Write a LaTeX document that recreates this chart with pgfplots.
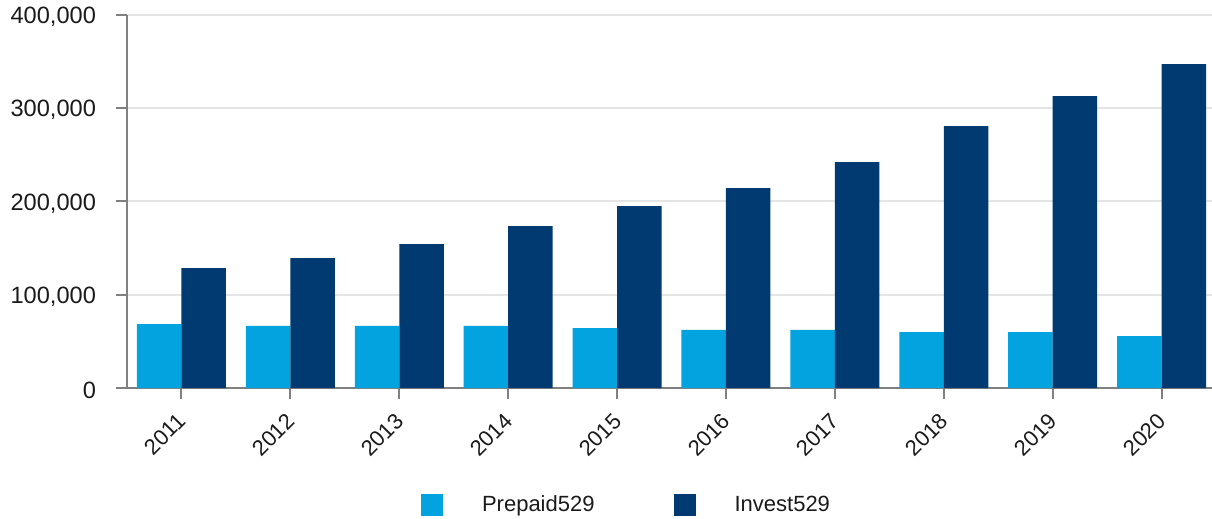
\documentclass[border=0pt]{standalone}
\usepackage{pgfplots}
\pgfplotsset{compat=1.18}
\usepackage{fontspec}
\setmainfont{Liberation Sans}
\usetikzlibrary{calc}
\definecolor{prepaid}{RGB}{3,163,224}
\definecolor{invest}{RGB}{0,58,112}
\definecolor{gridc}{RGB}{229,229,229}
\definecolor{axisc}{RGB}{128,128,128}
\definecolor{txt}{RGB}{26,26,26}
\begin{document}
\begin{tikzpicture}
\begin{axis}[
  name=ax,
  scale only axis,
  width=544.5pt, height=186.5pt,
  ybar=0pt, bar width=22.25pt,
  xmin=-0.5, xmax=9.5,
  ymin=0, ymax=400000,
  xtick={0,...,9},
  xticklabels={2011,2012,2013,2014,2015,2016,2017,2018,2019,2020},
  ytick={0,100000,200000,300000,400000},
  scaled y ticks=false,
  /pgf/number format/.cd, fixed, 1000 sep={,}, assume math mode=true,
  /pgfplots/.cd,
  axis lines*=left,
  axis line style={draw=axisc, line width=1pt},
  tick style={draw=axisc, line width=1pt},
  tick align=outside,
  major tick length=5.5pt,
  ymajorgrids,
  grid style={draw=gridc, line width=1pt},
  tick label style={text=txt},
  yticklabel style={font=\fontsize{11.8}{14}\selectfont, anchor=east, xshift=-6.5pt, yshift=-1pt},
  xticklabel style={font=\fontsize{11}{13}\selectfont, xshift=-2.6pt, yshift=-6.2pt, rotate=45, anchor=north east, inner sep=0pt},
  legend columns=2,
  legend image code/.code={\fill[#1] (0pt,-5.5pt) rectangle (11pt,5.5pt);},
  legend style={at={(0.27,-0.3137)}, anchor=west, draw=none, fill=none,
    inner sep=0pt, outer sep=0pt,
    font=\fontsize{11}{13}\selectfont, text=txt,
    nodes={inner sep=0pt, outer sep=0pt},
    /tikz/every odd column/.append style={column sep=19.5pt},
    /tikz/every even column/.append style={column sep=39.5pt}},
  clip=false,
]
\addplot[fill=prepaid, draw=none] coordinates {
  (0,68600) (1,66500) (2,66500) (3,66500) (4,64300)
  (5,62200) (6,62200) (7,60000) (8,60000) (9,55700)};
\addlegendentry{Prepaid529}
\addplot[fill=invest, draw=none] coordinates {
  (0,128600) (1,139300) (2,154300) (3,173600) (4,195000)
  (5,214400) (6,242200) (7,280800) (8,313000) (9,347300)};
\addlegendentry{Invest529}
\end{axis}
\pgfresetboundingbox
\path[use as bounding box] ($(ax.south west)+(-63.5pt,-65pt)$) rectangle ($(ax.north east)+(-2pt,7.5pt)$);
\end{tikzpicture}
\end{document}
